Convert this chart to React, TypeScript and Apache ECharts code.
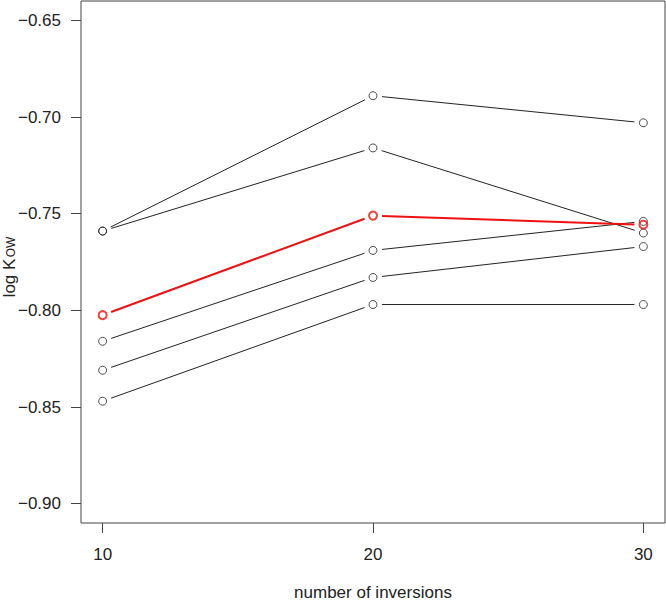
import React, { useEffect, useRef } from "react";
import * as echarts from "echarts";

const xValues = [10, 20, 30];
const xTicks = [10, 20, 30];
const yTicks = [-0.9, -0.85, -0.8, -0.75, -0.7, -0.65];

const seriesA = [-0.759, -0.689, -0.703];
const seriesB = [-0.759, -0.716, -0.76];
const seriesC = [-0.816, -0.769, -0.754];
const seriesD = [-0.831, -0.783, -0.767];
const seriesE = [-0.847, -0.797, -0.797];
const seriesRed = [-0.8025, -0.751, -0.7557];

const FONT = "'Liberation Sans', Arial, sans-serif";

function segs(ys: number[]) {
  const out: number[][] = [];
  for (let i = 0; i < ys.length - 1; i++) {
    out.push([xValues[i], ys[i], xValues[i + 1], ys[i + 1]]);
  }
  return out;
}

function makeSeries(ys: number[], color: string, lw: number, symLw: number) {
  const gap = 9;
  return [
    {
      type: "custom",
      data: segs(ys),
      silent: true,
      z: 2,
      renderItem: (params: any, api: any) => {
        const p1 = api.coord([api.value(0), api.value(1)]);
        const p2 = api.coord([api.value(2), api.value(3)]);
        const dx = p2[0] - p1[0];
        const dy = p2[1] - p1[1];
        const len = Math.hypot(dx, dy);
        const ux = dx / len;
        const uy = dy / len;
        return {
          type: "line",
          shape: {
            x1: p1[0] + ux * gap,
            y1: p1[1] + uy * gap,
            x2: p2[0] - ux * gap,
            y2: p2[1] - uy * gap,
          },
          style: { stroke: color, lineWidth: lw },
        };
      },
    },
    {
      type: "scatter",
      data: xValues.map((x, i) => [x, ys[i]]),
      symbol: "circle",
      symbolSize: 8,
      z: 3,
      itemStyle: { color: "rgba(0,0,0,0)", borderColor: color, borderWidth: symLw },
    },
  ];
}

export default function App() {
  const ref = useRef<HTMLDivElement>(null);
  useEffect(() => {
    document.body.style.margin = "0";
    const chart = echarts.init(ref.current!, null, { renderer: "svg" });
    const axisColor = "#444";
    chart.setOption({
      animation: false,
      backgroundColor: "#fff",
      textStyle: { fontFamily: FONT },
      grid: {
        left: 81,
        right: 1,
        top: 1,
        bottom: 78,
        containLabel: false,
        outerBoundsMode: "none",
        show: true,
        borderColor: axisColor,
        borderWidth: 1,
        backgroundColor: "transparent",
      },
      graphic: [
        {
          type: "group",
          x: 9,
          y: 258,
          rotation: Math.PI / 2,
          children: [
            {
              type: "text",
              x: -20,
              y: 0,
              style: {
                text: "log K",
                fontSize: 17,
                fontFamily: FONT,
                fill: "#222",
                align: "center",
                verticalAlign: "middle",
              },
            },
            {
              type: "text",
              x: 11,
              y: 2,
              style: {
                text: "OW",
                fontSize: 12,
                fontFamily: FONT,
                fill: "#222",
                align: "center",
                verticalAlign: "middle",
              },
            },
          ],
        },
      ],
      xAxis: {
        type: "value",
        min: 9.2,
        max: 30.8,
        name: "number of inversions",
        nameLocation: "middle",
        nameGap: 61,
        nameTextStyle: { fontSize: 17, color: "#222", fontFamily: FONT },
        axisLine: { show: false },
        splitLine: { show: false },
        axisTick: {
          show: true,
          length: 10,
          customValues: xTicks,
          lineStyle: { color: axisColor },
        },
        axisLabel: {
          customValues: xTicks,
          margin: 23,
          fontSize: 17,
          color: "#222",
          fontFamily: FONT,
        },
      },
      yAxis: {
        type: "value",
        min: -0.91,
        max: -0.64,
        axisLine: { show: false },
        splitLine: { show: false },
        axisTick: {
          show: true,
          length: 10,
          customValues: yTicks,
          lineStyle: { color: axisColor },
        },
        axisLabel: {
          customValues: yTicks,
          margin: 20,
          fontSize: 17,
          color: "#222",
          fontFamily: FONT,
          formatter: (v: number) => (v < 0 ? "\u2212" : "") + Math.abs(v).toFixed(2),
        },
      },
      series: [
        ...makeSeries(seriesA, "#222", 1, 1),
        ...makeSeries(seriesB, "#222", 1, 1),
        ...makeSeries(seriesC, "#222", 1, 1),
        ...makeSeries(seriesD, "#222", 1, 1),
        ...makeSeries(seriesE, "#222", 1, 1),
        ...makeSeries(seriesRed, "#ee1111", 2, 2),
      ],
    });
    return () => chart.dispose();
  }, []);
  return <div ref={ref} style={{ width: 666, height: 601 }} />;
}
